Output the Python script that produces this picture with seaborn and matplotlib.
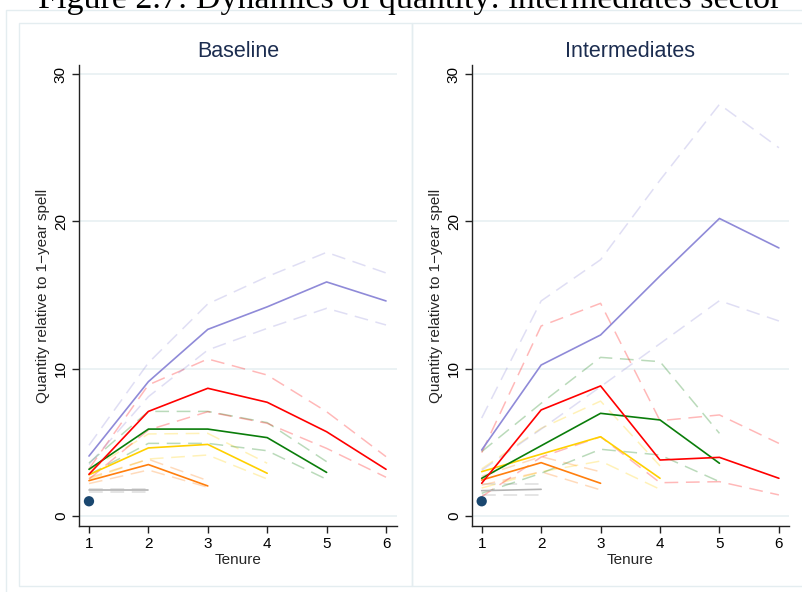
import numpy as np
import pandas as pd
import seaborn as sns
import matplotlib
matplotlib.use("Agg")
import matplotlib.pyplot as plt
from matplotlib.patches import Rectangle

# ---------------- data ----------------
panels = ["Baseline", "Intermediates"]
tenure = [1, 2, 3, 4, 5, 6]

# Baseline panel
gray_b_mean = [1.74, 1.74]
gray_b_lo = [1.66, 1.66]
gray_b_hi = [1.82, 1.82]
orange_b_mean = [2.40, 3.49, 2.04]
orange_b_lo = [2.20, 3.12, 1.95]
orange_b_hi = [2.60, 3.85, 2.40]
yellow_b_mean = [2.80, 4.62, 4.86, 2.90]
yellow_b_lo = [2.50, 3.87, 4.14, 2.51]
yellow_b_hi = [3.10, 5.57, 5.61, 3.58]
green_b_mean = [3.17, 5.90, 5.90, 5.32, 2.96]
green_b_lo = [2.80, 4.93, 4.93, 4.43, 2.49]
green_b_hi = [3.60, 7.10, 7.10, 6.34, 3.69]
red_b_mean = [2.83, 7.10, 8.67, 7.72, 5.72, 3.17]
red_b_lo = [2.50, 5.84, 7.08, 6.29, 4.59, 2.63]
red_b_hi = [3.20, 8.90, 10.66, 9.57, 7.08, 4.03]
purple_b_mean = [4.07, 9.12, 12.67, 14.20, 15.89, 14.60]
purple_b_lo = [3.50, 8.10, 11.27, 12.74, 14.10, 12.97]
purple_b_hi = [4.80, 10.40, 14.40, 16.25, 17.90, 16.50]

# Intermediates panel
gray_i_mean = [1.72, 1.81]
gray_i_lo = [1.42, 1.42]
gray_i_hi = [2.20, 2.20]
orange_i_mean = [2.44, 3.62, 2.22]
orange_i_lo = [2.10, 3.00, 1.77]
orange_i_hi = [2.70, 4.03, 3.00]
yellow_i_mean = [3.01, 4.20, 5.38, 2.56]
yellow_i_lo = [1.90, 3.00, 3.73, 1.81]
yellow_i_hi = [3.20, 5.95, 7.80, 3.40]
green_i_mean = [2.56, 4.77, 6.97, 6.52, 3.58]
green_i_lo = [1.54, 2.90, 4.53, 4.14, 2.33]
green_i_hi = [4.37, 7.65, 10.77, 10.48, 5.61]
red_i_mean = [2.22, 7.20, 8.83, 3.80, 3.98, 2.56]
red_i_lo = [1.31, 4.00, 5.38, 2.26, 2.33, 1.43]
red_i_hi = [4.30, 12.90, 14.44, 6.47, 6.86, 4.93]
purple_i_mean = [4.48, 10.25, 12.29, 16.30, 20.20, 18.20]
purple_i_lo = [3.10, 5.90, 8.78, 11.70, 14.62, 13.24]
purple_i_hi = [6.65, 14.60, 17.40, 22.80, 27.95, 25.00]

one_year_x = [1]
one_year_y = [1.0]

y_ticks = [0, 10, 20, 30]
x_label = "Tenure"
y_label = "Quantity relative to 1\u2212year spell"
fig_title = "Figure 2.7: Dynamics of quantity: intermediates sector"

# ---------------- styling ----------------
colors = {
    "gray": "#b4b4b4",
    "orange": "#ff7f0e",
    "yellow": "#ffd000",
    "green": "#0a7d0a",
    "red": "#ff0000",
    "purple": "#8f8ad8",
}
series_b = {
    "gray": (gray_b_mean, gray_b_lo, gray_b_hi),
    "orange": (orange_b_mean, orange_b_lo, orange_b_hi),
    "yellow": (yellow_b_mean, yellow_b_lo, yellow_b_hi),
    "green": (green_b_mean, green_b_lo, green_b_hi),
    "red": (red_b_mean, red_b_lo, red_b_hi),
    "purple": (purple_b_mean, purple_b_lo, purple_b_hi),
}
series_i = {
    "gray": (gray_i_mean, gray_i_lo, gray_i_hi),
    "orange": (orange_i_mean, orange_i_lo, orange_i_hi),
    "yellow": (yellow_i_mean, yellow_i_lo, yellow_i_hi),
    "green": (green_i_mean, green_i_lo, green_i_hi),
    "red": (red_i_mean, red_i_lo, red_i_hi),
    "purple": (purple_i_mean, purple_i_lo, purple_i_hi),
}

sns.set_theme(style="white")
plt.rcParams["font.family"] = ["Liberation Sans", "DejaVu Sans"]

W, H = 803, 592
fig = plt.figure(figsize=(W / 100, H / 100), dpi=100)
fig.patch.set_facecolor("white")


def fx(px):
    return px / W


def fy(py):
    return 1 - py / H


def frame(x0, y0, x1, y1):
    fig.patches.append(Rectangle((fx(x0), fy(y1)), fx(x1) - fx(x0), fy(y0) - fy(y1),
                                 transform=fig.transFigure, fill=False,
                                 ec="#e4edf0", lw=1.0))


# frame boxes (Stata-like graph regions)
frame(6.5, 10, 830, 620)
frame(19.5, 22.5, 411.5, 586)
frame(411.5, 22.5, 830, 586)

# page heading (cut at the top edge, as in the reference)
fig.text(fx(410), fy(8), fig_title, ha="center", va="baseline",
         fontsize=24.5, family=["Liberation Serif", "DejaVu Serif"], color="black")

ax_specs = [
    (panels[0], series_b, (79, 397), (0.832, 6.185)),
    (panels[1], series_i, (472, 789), (0.837, 6.17)),
]

top_px, bot_px = 65, 526
for title, series, (lpx, rpx), xlim in ax_specs:
    ax = fig.add_axes([fx(lpx), fy(bot_px), fx(rpx - lpx), fy(top_px) - fy(bot_px)])
    ax.set_facecolor("white")
    for yt in y_ticks:
        ax.axhline(yt, color="#e8f0f2", lw=1.2, zorder=0)
    for name, (mean, lo, hi) in series.items():
        xs = tenure[:len(mean)]
        col = colors[name]
        for band in (lo, hi):
            sns.lineplot(x=xs, y=band, ax=ax, color=col,
                         alpha=0.28 if name != "gray" else 0.45,
                         lw=1.1, linestyle=(0, (9, 5)), errorbar=None, zorder=2)
    for name, (mean, lo, hi) in series.items():
        xs = tenure[:len(mean)]
        sns.lineplot(x=xs, y=mean, ax=ax, color=colors[name], lw=1.2,
                     errorbar=None, zorder=3)
    sns.scatterplot(x=one_year_x, y=one_year_y, ax=ax, color="#1a476f", s=55,
                    edgecolor="none", zorder=4)

    ax.set_xlim(*xlim)
    ax.set_ylim(-0.68, 30.62)
    ax.set_xticks(tenure)
    ax.set_yticks(y_ticks)
    ax.set_yticklabels([str(t) for t in y_ticks], rotation=90, va="center")
    for side in ("top", "right"):
        ax.spines[side].set_visible(False)
    for side in ("left", "bottom"):
        ax.spines[side].set_color("#222222")
        ax.spines[side].set_linewidth(1.0)
    ax.tick_params(axis="both", direction="out", length=5, width=1, color="#222222",
                   labelsize=11, labelcolor="black", pad=3, bottom=True, left=True)
    ax.set_xlabel(x_label, fontsize=11, labelpad=1)
    ax.set_ylabel(y_label, fontsize=11, labelpad=3)
    ax.set_title(title, fontsize=15.5, color="#1c2d50", pad=6)

fig.savefig("out.png", dpi=100)
